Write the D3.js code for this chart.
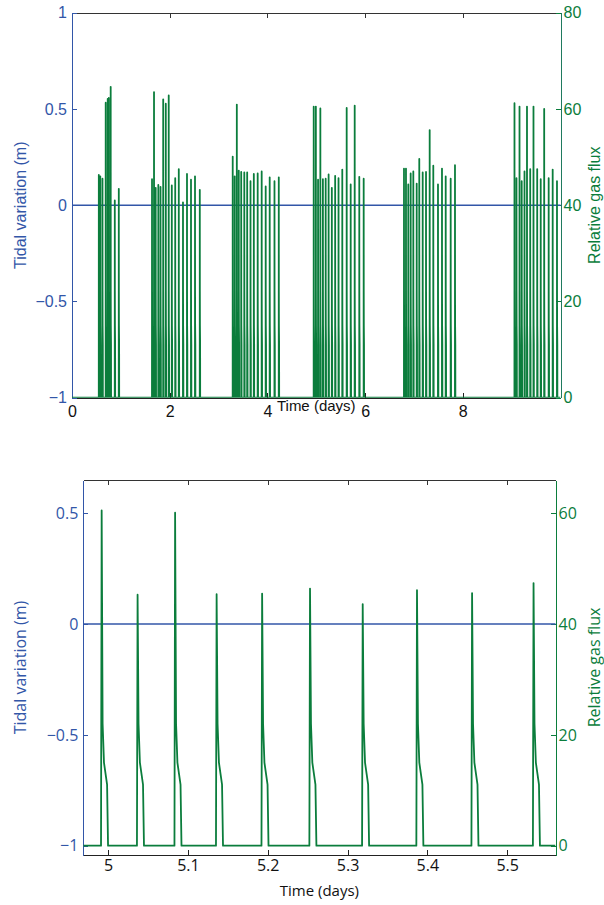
<!DOCTYPE html>
<html>
<head>
<meta charset="utf-8">
<script src="https://cdnjs.cloudflare.com/ajax/libs/d3/7.8.5/d3.min.js"></script>
<style>
    body { margin: 0; background: #fff; }
    .axis path, .axis line { shape-rendering: crispEdges; }
</style>
</head>
<body>
<div id="chart"></div>
<script>
!(function(){
    "use strict"

    // full record, days 0-10 : burst times (days) and peak relative flux
    var spikeDays = [
        0.549, 0.579, 0.624, 0.690, 0.731, 0.753, 0.792, 0.876, 0.958,
        1.638, 1.679, 1.713, 1.767, 1.812, 1.867, 1.920, 1.980, 2.043, 2.113, 2.186, 2.272, 2.354, 2.436, 2.518, 2.616,
        3.290, 3.331, 3.374, 3.414, 3.464, 3.527, 3.586, 3.654, 3.722, 3.801, 3.883, 3.965, 4.047, 4.145, 4.233,
        4.948, 4.992, 5.037, 5.084, 5.136, 5.193, 5.253, 5.319, 5.387, 5.456, 5.533, 5.623, 5.705, 5.787, 5.881, 5.971,
        6.796, 6.837, 6.884, 6.933, 6.987, 7.056, 7.109, 7.179, 7.247, 7.322, 7.396, 7.492, 7.574, 7.650, 7.752, 7.840,
        9.058, 9.099, 9.161, 9.206, 9.263, 9.314, 9.380, 9.447, 9.523, 9.595, 9.666, 9.758, 9.840, 9.928
    ]
    var spikePeaks = [
        46.3, 46.0, 45.5, 61.3, 62.1, 62.3, 64.6, 41.0, 43.4,
        45.4, 63.5, 43.6, 44.2, 43.8, 62.0, 61.1, 62.8, 44.1, 45.6, 47.5, 40.6, 46.5, 45.3, 46.0, 43.2,
        50.1, 46.0, 60.9, 47.2, 46.9, 46.8, 46.8, 45.0, 46.5, 46.6, 47.0, 43.9, 45.8, 45.0, 45.8,
        60.5, 60.5, 45.3, 60.1, 45.4, 45.5, 46.4, 43.6, 46.1, 45.6, 47.4, 60.2, 44.3, 60.7, 45.9, 45.5,
        47.6, 47.6, 44.3, 46.6, 47.0, 44.5, 49.6, 46.8, 46.9, 55.6, 48.2, 44.3, 47.6, 46.0, 45.5, 48.3,
        61.2, 45.6, 60.5, 45.0, 47.0, 60.5, 47.5, 60.5, 47.5, 45.4, 60.0, 45.6, 47.4, 45.0
    ]

    // close-up around day 5
    var zoomDays = [4.992, 5.037, 5.084, 5.136, 5.193, 5.253, 5.319, 5.387, 5.456, 5.533]
    var zoomPeaks = [60.5, 45.3, 60.1, 45.4, 45.5, 46.4, 43.6, 46.1, 45.6, 47.4]

    // shape of each burst: lag (days) from the peak and flux
    var riseLag = -0.0008
    var tailLag = [0.0012, 0.0029, 0.0068, 0.0080]
    var tailFlux = [22, 15, 11, 0]

    // tide stays flat (m)
    var tideLevel = 0

    var dayTicks = [0, 2, 4, 6, 8]
    var tideTicks = [-1, -0.5, 0, 0.5, 1]
    var fluxTicks = [0, 20, 40, 60, 80]
    var zoomDayTicks = [5, 5.1, 5.2, 5.3, 5.4, 5.5]
    var zoomTideTicks = [-1, -0.5, 0, 0.5]
    var zoomFluxTicks = [0, 20, 40, 60]

    var blue = "#3256a8"
    var green = "#0b7d3c"

    var width = 604, height = 905
    var svg = d3.select("#chart").append("svg")
        .attr("width", width).attr("height", height)

    var fmt = d3.format("")

    function fluxToTide(f) { return (f - 40) / 40 }

    function burstTrace(days, peaks, start, end) {
        var pts = [[start, 0]]
        days.forEach(function(t, i) {
            pts.push([t + riseLag, 0])
            pts.push([t, peaks[i]])
            tailLag.forEach(function(lag, j) { pts.push([t + lag, tailFlux[j]]) })
        })
        pts.push([end, 0])
        return pts
    }

    drawPanel({
        id: "top", left: 72, right: 560.5, top: 12.7, bottom: 397.7,
        days: [0, 10], flux: [0, 80],
        dayTicks: dayTicks, tideTicks: tideTicks, fluxTicks: fluxTicks,
        spikes: spikeDays, peaks: spikePeaks,
        font: "'Liberation Sans', Arial, sans-serif", size: 16,
        padX: 8, titleY: 411, titleSize: 15, rightColor: "#1f7a5e"
    })

    drawPanel({
        id: "bottom", left: 83.3, right: 555.5, top: 480, bottom: 855,
        days: [4.969, 5.5605], flux: [-1.68, 66],
        dayTicks: zoomDayTicks, tideTicks: zoomTideTicks, fluxTicks: zoomFluxTicks,
        spikes: zoomDays, peaks: zoomPeaks,
        font: "'Open Sans', 'Noto Sans', sans-serif", size: 16,
        padX: 5, titleY: 896, titleSize: 15, rightColor: green
    })

    function drawPanel(p) {
        var g = svg.append("g").attr("class", p.id)

        var x = d3.scaleLinear().domain(p.days).range([p.left, p.right])
        var yFlux = d3.scaleLinear().domain(p.flux).range([p.bottom, p.top])
        var yTide = d3.scaleLinear().domain(p.flux.map(fluxToTide)).range([p.bottom, p.top])

        g.append("clipPath").attr("id", "clip-" + p.id)
            .append("rect")
            .attr("x", p.left).attr("y", p.top)
            .attr("width", p.right - p.left).attr("height", p.bottom - p.top)

        // axes (ticks inside, like matlab)
        var xb = g.append("g").attr("class", "axis")
            .attr("transform", "translate(0," + p.bottom + ")")
            .call(d3.axisBottom(x).tickValues(p.dayTicks).tickFormat(fmt)
                .tickSizeInner(-5).tickSizeOuter(0).tickPadding(p.padX))
        xb.selectAll("path, line").attr("stroke", "#222")

        var xt = g.append("g").attr("class", "axis")
            .attr("transform", "translate(0," + p.top + ")")
            .call(d3.axisTop(x).tickValues(p.dayTicks).tickFormat("")
                .tickSizeInner(-5).tickSizeOuter(0))
        xt.selectAll("path, line").attr("stroke", "#333")

        var yl = g.append("g").attr("class", "axis")
            .attr("transform", "translate(" + p.left + ",0)")
            .call(d3.axisLeft(yTide).tickValues(p.tideTicks).tickFormat(fmt)
                .tickSizeInner(-5).tickSizeOuter(0).tickPadding(5))
        yl.selectAll("path, line").attr("stroke", blue)
        yl.selectAll("text").attr("fill", blue)

        var yr = g.append("g").attr("class", "axis")
            .attr("transform", "translate(" + p.right + ",0)")
            .call(d3.axisRight(yFlux).tickValues(p.fluxTicks).tickFormat(fmt)
                .tickSizeInner(-5).tickSizeOuter(0).tickPadding(3))
        yr.select("path").attr("stroke", p.rightColor)
        yr.selectAll("line").attr("stroke", green)
        yr.selectAll("text").attr("fill", green)

        g.selectAll(".axis text")
            .style("font-family", p.font)
            .style("font-size", p.size + "px")
        xb.selectAll("text").attr("fill", "#111")

        // tide
        var lineTide = d3.line()
            .x(function(d) { return x(d[0]) })
            .y(function(d) { return yTide(d[1]) })
        g.append("path")
            .datum([[p.days[0], tideLevel], [p.days[1], tideLevel]])
            .attr("d", lineTide)
            .attr("fill", "none")
            .attr("stroke", blue)
            .attr("stroke-width", 1.5)

        // gas flux
        var lineFlux = d3.line()
            .x(function(d) { return x(d[0]) })
            .y(function(d) { return yFlux(d[1]) })
        g.append("path")
            .datum(burstTrace(p.spikes, p.peaks, p.days[0], p.days[1]))
            .attr("clip-path", "url(#clip-" + p.id + ")")
            .attr("d", lineFlux)
            .attr("fill", "none")
            .attr("stroke", green)
            .attr("stroke-width", 1.8)
            .attr("stroke-linejoin", "round")

        // titles
        g.append("text")
            .attr("x", (p.left + p.right) / 2)
            .attr("y", p.titleY)
            .attr("text-anchor", "middle")
            .style("font-family", p.font)
            .style("font-size", p.titleSize + "px")
            .attr("fill", "#111")
            .text("Time (days)")

        var midY = (p.top + p.bottom) / 2
        g.append("text")
            .attr("transform", "translate(" + 26 + "," + midY + ") rotate(-90)")
            .attr("text-anchor", "middle")
            .style("font-family", p.font)
            .style("font-size", p.size + "px")
            .attr("fill", blue)
            .text("Tidal variation (m)")

        g.append("text")
            .attr("transform", "translate(" + 600 + "," + midY + ") rotate(-90)")
            .attr("text-anchor", "middle")
            .style("font-family", p.font)
            .style("font-size", p.size + "px")
            .attr("fill", green)
            .text("Relative gas flux")
    }
}());
</script>
</body>
</html>
